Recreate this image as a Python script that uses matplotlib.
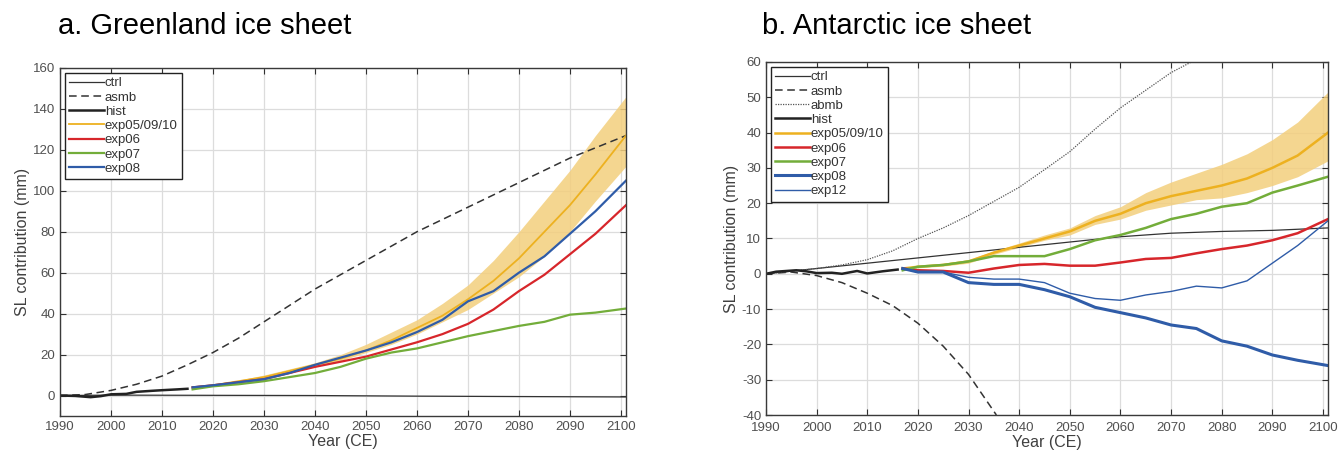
import numpy as np
import matplotlib
matplotlib.use("Agg")
import matplotlib.pyplot as plt

plt.rcParams['font.family'] = ['Liberation Sans', 'DejaVu Sans']
plt.rcParams['axes.unicode_minus'] = False

# ---- Greenland (panel a) ----
g_ctrl_yr = [1990, 2000, 2020, 2040, 2060, 2080, 2101]
g_ctrl = [0.0, 0.2, 0.1, 0.0, -0.3, -0.5, -0.7]

g_asmb_yr = [1990, 1995, 2000, 2005, 2010, 2015, 2020, 2025, 2030, 2035, 2040, 2045, 2050,
             2055, 2060, 2065, 2070, 2075, 2080, 2085, 2090, 2095, 2101]
g_asmb = [0, 0.5, 2.5, 5.5, 9.5, 15, 21, 28, 36, 44, 52, 59, 66,
          73, 80, 86, 92, 98, 104, 110, 116, 121, 127]

g_hist_yr = [1990, 1993, 1996, 1998, 2000, 2003, 2005, 2008, 2010, 2013, 2015]
g_hist = [0, -0.2, -0.8, -0.3, 0.6, 0.8, 1.8, 2.3, 2.6, 3.0, 3.3]

fut_yr = [2016, 2020, 2025, 2030, 2035, 2040, 2045, 2050, 2055, 2060, 2065,
          2070, 2075, 2080, 2085, 2090, 2095, 2101]
g_exp05 = [4, 5, 7, 9, 12, 15, 18, 22, 27, 33, 39, 47, 56, 67, 80, 93, 108, 127]
g_exp05_hi = [4, 5.5, 7.5, 10, 13, 16, 20, 25, 31, 37, 45, 54, 66, 80, 95, 110, 127, 146]
g_exp05_lo = [4, 4.5, 6.5, 8.5, 11, 14, 17, 21, 25, 30, 36, 42, 50, 58, 68, 80, 95, 112]
g_exp06 = [4, 5, 6.5, 8, 11, 14, 16.5, 19, 22.5, 26, 30, 35, 42, 51, 59, 69, 79, 93]
g_exp07 = [3, 4.5, 5.5, 7, 9, 11, 14, 18, 21, 23, 26, 29, 31.5, 34, 36, 39.5, 40.5, 42.5]
g_exp08 = [4, 5, 6.5, 8, 11, 15, 18.5, 22, 26, 31, 37, 46, 51, 60, 68, 79, 90, 105]

# ---- Antarctica (panel b) ----
a_ctrl_yr = [1990, 2000, 2010, 2020, 2030, 2040, 2050, 2060, 2070, 2080, 2090, 2101]
a_ctrl = [0, 1.5, 3.0, 4.5, 6.0, 7.5, 9.0, 10.5, 11.5, 12.0, 12.3, 13.0]

a_asmb_yr = [1990, 1995, 2000, 2005, 2010, 2015, 2020, 2025, 2030, 2035.5]
a_asmb = [0, 0.5, -0.5, -2.5, -5.5, -9, -14, -20.5, -28.5, -40]

a_abmb_yr = [1990, 2000, 2005, 2010, 2015, 2020, 2025, 2030, 2035, 2040, 2045,
             2050, 2055, 2060, 2065, 2070, 2074]
a_abmb = [0, 1.5, 2.5, 4, 6.5, 10, 13, 16.5, 20.5, 24.5, 29.5,
          34.6, 41, 47, 52, 57, 60]

a_hist_yr = [1990, 1992, 1994, 1996, 1998, 2000, 2003, 2005, 2008, 2010, 2013, 2016]
a_hist = [0, 0.6, 0.8, 1.0, 0.7, 0.2, 0.3, 0.0, 0.8, 0.1, 0.7, 1.2]

a_fut_yr = [2017, 2020, 2025, 2030, 2035, 2040, 2045, 2050, 2055, 2060, 2065,
            2070, 2075, 2080, 2085, 2090, 2095, 2101]
a_exp05 = [1.5, 2, 2.5, 3.5, 6, 8, 10, 12, 15, 17, 20, 22, 23.5, 25, 27, 30, 33.5, 40]
a_exp05_hi = [1.5, 2.3, 3, 4, 6.5, 8.7, 11, 13, 16.5, 19, 23, 26, 28.5, 31, 34, 38, 43, 51.5]
a_exp05_lo = [1.5, 1.7, 2.2, 3, 5.5, 7.5, 9.5, 11, 14, 15.5, 18, 19.5, 21, 21.5, 23, 25, 27.5, 32]
a_exp06 = [1.5, 1, 0.8, 0.3, 1.5, 2.5, 2.8, 2.3, 2.3, 3.2, 4.2, 4.5, 5.8, 7, 8, 9.5, 11.5, 15.5]
a_exp07 = [1, 2, 2.5, 3.5, 5, 5, 5, 7, 9.5, 11, 13, 15.5, 17, 19, 20, 23, 25, 27.5]
a_exp08 = [1.5, 0.5, 0.5, -2.5, -3, -3, -4.5, -6.5, -9.5, -11, -12.5, -14.5, -15.5,
           -19, -20.5, -23, -24.5, -26]
a_exp12 = [1.5, 0.5, 0.5, -1, -1.5, -1.5, -2.5, -5.5, -7, -7.5, -6, -5, -3.5,
           -4, -2, 3, 8, 15]

c_orange = '#edb120'
c_red = '#d7262b'
c_green = '#73ad3a'
c_blue = '#2f5ca8'
c_band = '#f3cf7d'


def style_axes(ax, ylim, yticks):
    ax.set_xlim(1990, 2101)
    ax.set_ylim(*ylim)
    ax.set_xticks(range(1990, 2101, 10))
    ax.set_yticks(yticks)
    ax.grid(True, color='#dcdcdc', linewidth=0.9)
    ax.set_axisbelow(True)
    ax.tick_params(direction='in', top=True, right=True, length=4,
                   labelsize=9.5, colors='#303030', labelcolor='#505050')
    for s in ax.spines.values():
        s.set_color('#3a3a3a')
        s.set_linewidth(1.0)
    ax.set_xlabel('Year (CE)', fontsize=11.5, color='#404040', labelpad=1)
    ax.set_ylabel('SL contribution (mm)', fontsize=11.5, color='#404040', labelpad=2)


fig = plt.figure(figsize=(13.4, 4.55), dpi=100)
ax1 = fig.add_axes([60 / 1340, 1 - 416 / 455, 566 / 1340, 348 / 455])
ax2 = fig.add_axes([766 / 1340, 1 - 415 / 455, 562 / 1340, 353 / 455])

# panel a
ax1.fill_between(fut_yr, g_exp05_lo, g_exp05_hi, color=c_band, alpha=0.85, linewidth=0)
ax1.plot(g_ctrl_yr, g_ctrl, color='#333333', lw=0.9, label='ctrl')
ax1.plot(g_asmb_yr, g_asmb, color='#333333', lw=1.1, ls=(0, (5, 3)), label='asmb')
ax1.plot(g_hist_yr, g_hist, color='#222222', lw=1.8, label='hist')
ax1.plot(fut_yr, g_exp05, color=c_orange, lw=1.3, label='exp05/09/10')
ax1.plot(fut_yr, g_exp06, color=c_red, lw=1.6, label='exp06')
ax1.plot(fut_yr, g_exp07, color=c_green, lw=1.6, label='exp07')
ax1.plot(fut_yr, g_exp08, color=c_blue, lw=1.6, label='exp08')
style_axes(ax1, (-10, 160), range(0, 161, 20))

# panel b
ax2.fill_between(a_fut_yr, a_exp05_lo, a_exp05_hi, color=c_band, alpha=0.85, linewidth=0)
ax2.plot(a_ctrl_yr, a_ctrl, color='#333333', lw=0.9, label='ctrl')
ax2.plot(a_asmb_yr, a_asmb, color='#333333', lw=1.1, ls=(0, (5, 3)), label='asmb')
ax2.plot(a_abmb_yr, a_abmb, color='#555555', lw=0.9, ls=(0, (1, 1)), label='abmb')
ax2.plot(a_hist_yr, a_hist, color='#222222', lw=1.8, label='hist')
ax2.plot(a_fut_yr, a_exp05, color=c_orange, lw=1.8, label='exp05/09/10')
ax2.plot(a_fut_yr, a_exp06, color=c_red, lw=1.8, label='exp06')
ax2.plot(a_fut_yr, a_exp07, color=c_green, lw=1.8, label='exp07')
ax2.plot(a_fut_yr, a_exp08, color=c_blue, lw=2.2, label='exp08')
ax2.plot(a_fut_yr, a_exp12, color=c_blue, lw=1.0, label='exp12')
style_axes(ax2, (-40, 60), range(-40, 61, 10))
ax2.tick_params(axis='x', pad=5)

for ax in (ax1, ax2):
    leg = ax.legend(loc='upper left', fontsize=9.5, handlelength=2.6, handletextpad=0.1,
                    labelspacing=0.15, borderpad=0.35, borderaxespad=0.35,
                    fancybox=False, framealpha=1)
    leg.get_frame().set_edgecolor('#222222')
    leg.get_frame().set_linewidth(1.0)
    for t in leg.get_texts():
        t.set_color('#333333')

fig.text(58 / 1340, 1 - 26 / 455, 'a. Greenland ice sheet', fontsize=21, va='center', ha='left')
fig.text(762 / 1340, 1 - 26 / 455, 'b. Antarctic ice sheet', fontsize=21, va='center', ha='left')

plt.savefig('out.png', dpi=100)
